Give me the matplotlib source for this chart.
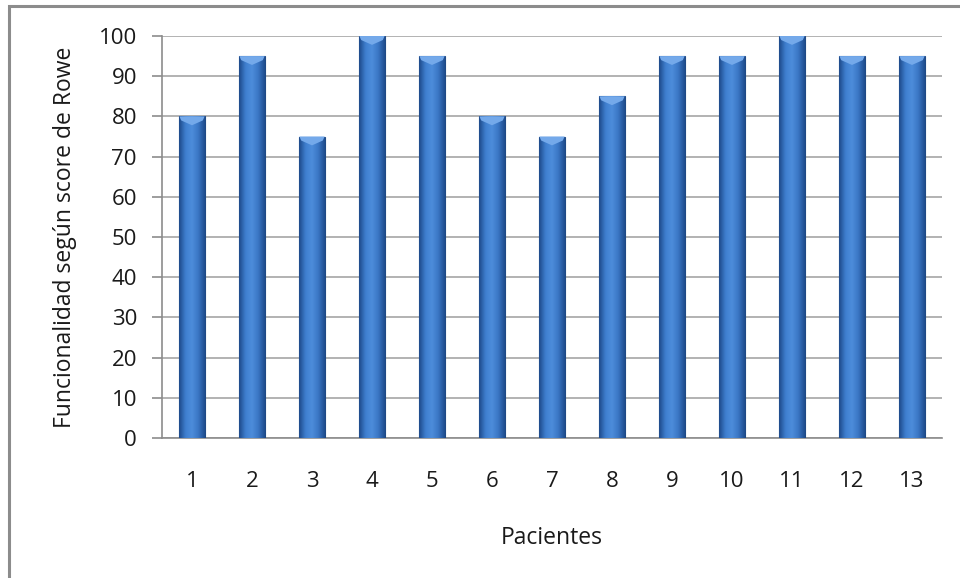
import numpy as np
import matplotlib
matplotlib.use("Agg")
import matplotlib.pyplot as plt
from matplotlib.colors import LinearSegmentedColormap
from matplotlib.patches import Polygon, Rectangle

plt.rcParams['font.family'] = ['Open Sans', 'DejaVu Sans']

pacientes = [str(i) for i in range(1, 14)]
rowe = [80, 95, 75, 100, 95, 80, 75, 85, 95, 95, 100, 95, 95]
yticks = list(range(0, 101, 10))

fig = plt.figure(figsize=(9.6, 5.78), dpi=100)
ax = fig.add_axes([0.16875, 0.2422, 0.8125, 0.6955])

# frame of the chart (only left/top visible in the reference)
fig.patches.append(Rectangle((0.009, -0.05), 1.1, 1.04, transform=fig.transFigure,
                             fill=False, edgecolor='#8c8c8c', linewidth=2.2))

x = np.arange(len(rowe))
width = 0.42
bars = ax.bar(x, rowe, width=width, color='#3a73c0', edgecolor='#1f4a85',
              linewidth=0.8, zorder=3)

# cylinder-like horizontal shading
cmap = LinearSegmentedColormap.from_list(
    'cyl', ['#1e4a8a', '#3f7fcf', '#4d8ddb', '#3a76c4', '#1f4d8e'])
grad = np.linspace(0, 1, 64).reshape(1, -1)
for b, v in zip(bars, rowe):
    x0 = b.get_x()
    x1 = x0 + b.get_width()
    im = ax.imshow(grad, extent=[x0, x1, 0, v], aspect='auto', cmap=cmap,
                   zorder=3.5, interpolation='bicubic')
    im.set_clip_path(b)
    xc = (x0 + x1) / 2
    cap = Polygon([(x0, v), (x1, v), (x1 - 0.03, v - 1.0), (xc, v - 2.2),
                   (x0 + 0.03, v - 1.0)], closed=True,
                  facecolor='#74a9ea', edgecolor='none', zorder=4)
    ax.add_patch(cap)

ax.set_xlim(-0.5, len(rowe) - 0.5)
ax.set_ylim(0, 100)
ax.set_yticks(yticks)
ax.set_xticks(x)
ax.set_xticklabels(pacientes)

ax.grid(axis='y', color='#a6a6a6', linewidth=1.2, zorder=0)
ax.set_axisbelow(True)
for s in ['top', 'right']:
    ax.spines[s].set_visible(False)
for s in ['left', 'bottom']:
    ax.spines[s].set_color('#8c8c8c')
    ax.spines[s].set_linewidth(1.2)

ax.tick_params(axis='y', length=7, width=1.2, color='#8c8c8c', labelsize=16,
               pad=11, labelcolor='#1a1a1a')
ax.tick_params(axis='x', length=0, labelsize=16, pad=24, labelcolor='#1a1a1a')

ax.set_xlabel('Pacientes', fontsize=16.5, labelpad=24, color='#1a1a1a')
ax.set_ylabel('Funcionalidad según score de Rowe', fontsize=16.5, labelpad=16,
              color='#1a1a1a')

fig.savefig('out.png', dpi=100)
